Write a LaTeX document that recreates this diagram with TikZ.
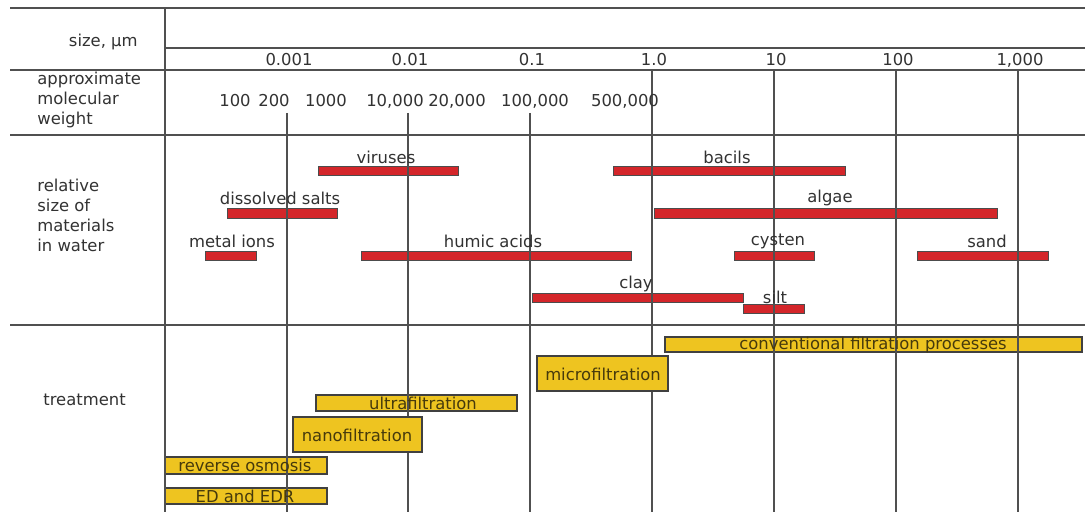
\documentclass[tikz,border=0pt]{standalone}
\usepackage{fontspec}
\setmainfont{DejaVu Sans}
\definecolor{barred}{RGB}{212,38,42}
\definecolor{baryellow}{RGB}{238,196,32}
\definecolor{gridgray}{RGB}{80,80,80}
\definecolor{txtgray}{RGB}{50,50,50}
\definecolor{boxtxt}{RGB}{70,58,12}

\begin{document}
\begin{tikzpicture}[x=0.5pt,y=-0.5pt, font=\fontsize{8.2}{10}\selectfont,
    redbar/.style={draw=black!70, fill=barred, line width=0.5pt},
    procbox/.style={draw=black!75, fill=baryellow, line width=0.6pt},
    lbl/.style={text=txtgray, inner sep=0pt},
    boxlbl/.style={text=boxtxt, inner sep=0pt},
    gridline/.style={gridgray, line width=0.7pt}]
      \useasboundingbox[fill=white] (0,0) rectangle (1085,512);

      % materials
      \draw[redbar] (318,167) rectangle (458,176);
      \draw[redbar] (227,209) rectangle (337,219);
      \draw[redbar] (205,252) rectangle (256,261);
      \draw[redbar] (361,252) rectangle (631,261);
      \draw[redbar] (613,167) rectangle (845,176);
      \draw[redbar] (654,209) rectangle (997,219);
      \draw[redbar] (734,252) rectangle (814,261);
      \draw[redbar] (917,252) rectangle (1048,261);
      \draw[redbar] (532,294) rectangle (743,303);
      \draw[redbar] (743,305) rectangle (804,314);

      % thin process bars
      \draw[procbox] (665,337) rectangle (1082,352);
      \draw[procbox] (316,395) rectangle (517,411);
      \draw[procbox] (165,457) rectangle (327,474);
      \draw[procbox] (165,488) rectangle (327,504);

      % frame and grid
      \draw[gridline] (10,8) -- (1085,8);
      \draw[gridline] (165,48) -- (1085,48);
      \foreach \y in {70,135,325} \draw[gridline] (10,\y) -- (1085,\y);
      \draw[gridline] (165,8) -- (165,512);
      \foreach \x in {287,408,530} \draw[gridline] (\x,113) -- (\x,512);
      \foreach \x in {652,774,896,1018} \draw[gridline] (\x,70) -- (\x,512);

      % thick process boxes
      \draw[procbox] (537,356) rectangle (668,391);
      \draw[procbox] (293,417) rectangle (422,452);

      % row titles
      \node[lbl, anchor=east] (sizeT) at (138,42) {size, µm};
      \node[lbl, anchor=north west, align=left] (mwT) at (37,72) {approximate\\molecular\\weight};
      \node[lbl, anchor=west, align=left] (relT) at (37,215) {relative\\size of\\materials\\in water};
      \node[lbl, anchor=west] (treatT) at (43,400) {treatment};

      % size scale
      \foreach \x/\t [count=\i] in {287/0.001, 408/0.01, 530/0.1, 652/1.0, 774/10, 896/100, 1018/{1,000}}
        \node[lbl] (sz\i) at (\x+2,60) {\t};

      % molecular weights
      \foreach \x/\t [count=\i] in {235/100, 274/200, 326/1000, 395/{10,000}, 457/{20,000}, 535/{100,000}, 625/{500,000}}
        \node[lbl] (mw\i) at (\x,101) {\t};

      % material labels
      \node[lbl] (viruses) at (386,157) {viruses};
      \node[lbl] (salts) at (280,198) {dissolved salts};
      \node[lbl] (ions) at (232,241) {metal ions};
      \node[lbl] (humic) at (493,241) {humic acids};
      \node[lbl] (bacils) at (727,157) {bacils};
      \node[lbl] (algae) at (830,198) {algae};
      \node[lbl] (cysten) at (778,241) {cysten};
      \node[lbl] (sand) at (987,241) {sand};
      \node[lbl] (clay) at (636,284) {clay};
      \node[lbl] (silt) at (775,297) {silt};

      % process labels
      \node[boxlbl] (conv) at (873,345) {conventional filtration processes};
      \node[boxlbl] (micro) at (603,374) {microfiltration};
      \node[boxlbl] (ultra) at (423,403) {ultrafiltration};
      \node[boxlbl] (nano) at (357,435) {nanofiltration};
      \node[boxlbl] (ro) at (245,465) {reverse osmosis};
      \node[boxlbl] (ed) at (245,496) {ED and EDR};
\end{tikzpicture}
\end{document}
